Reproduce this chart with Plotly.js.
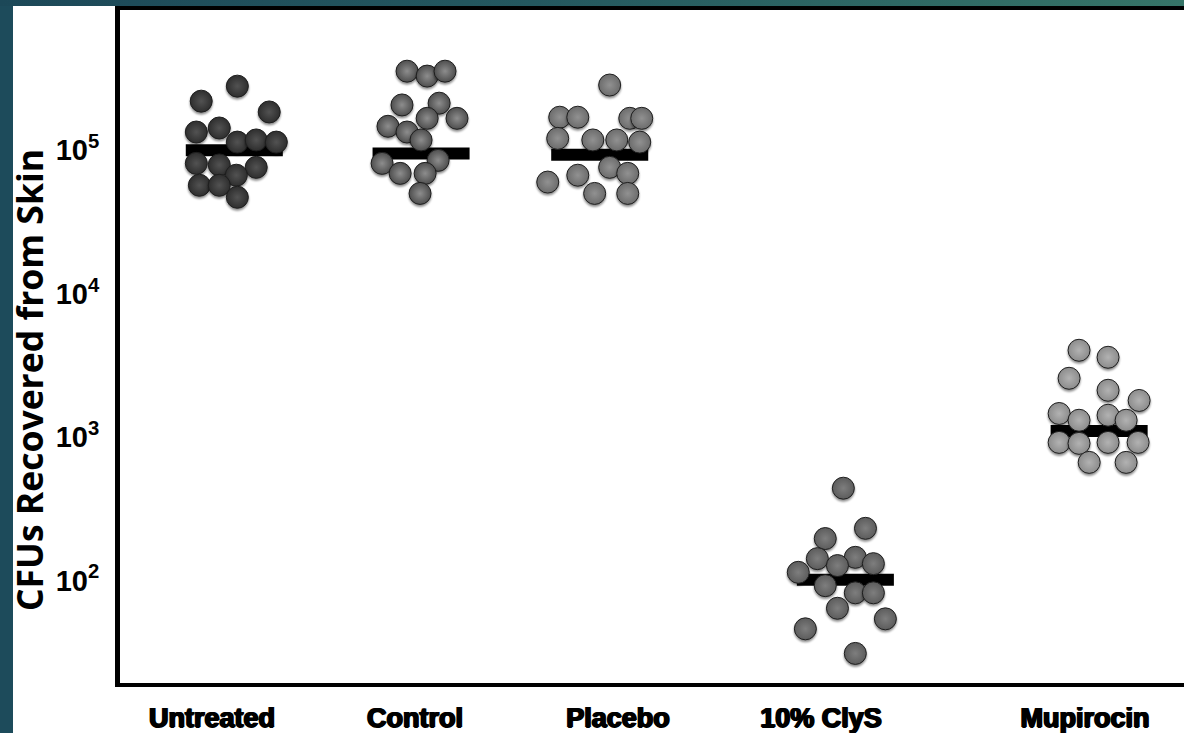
<!DOCTYPE html>
<html>
<head>
<meta charset="utf-8">
<script src="https://cdn.plot.ly/plotly-3.0.1.min.js"></script>
<style>
  html, body { margin: 0; padding: 0; }
  body { width: 1184px; height: 733px; overflow: hidden;
         background: linear-gradient(to right, #1c4858 0%, #24585f 45%, #367568 100%); }
  #chart { width: 1184px; height: 733px; }
  /* soft drop shadow under each dot */
  .scatterlayer .points path.point { filter: drop-shadow(0.5px 2px 1px rgba(0,0,0,0.45)); }
</style>
</head>
<body>
<div id="chart"></div>
<script>
// Treatment groups and where their labels sit on the x axis
const groups   = ['Untreated', 'Control', 'Placebo', '10% ClyS', 'Mupirocin'];
const labelPos = [1, 2, 3, 4, 5.3];
const groupPos = [1.11, 2.03, 2.91, 4.12, 5.37];

// Median CFU per group (horizontal bars)
const medians = [1.0e5, 9.5e4, 9.3e4, 101, 1100];

// Individual CFU counts recovered from skin, with the horizontal spread of each dot
const untreatedCFU    = [2.2e5, 2.8e5, 1.85e5, 1.34e5, 1.43e5, 1.14e5, 1.18e5, 1.14e5, 8.1e4, 7.9e4, 7.6e4, 6.7e4, 5.7e4, 5.7e4, 4.7e4];
const untreatedSpread = [-0.163, 0.015, 0.172, -0.187, -0.074, 0.015, 0.108, 0.207, -0.187, -0.074, 0.108, 0.010, -0.172, -0.074, 0.015];

const controlCFU    = [3.56e5, 3.29e5, 3.56e5, 2.07e5, 2.13e5, 1.67e5, 1.67e5, 1.47e5, 1.34e5, 1.18e5, 8.1e4, 8.5e4, 6.9e4, 6.9e4, 5.0e4];
const controlSpread = [-0.069, 0.030, 0.118, -0.094, 0.089, 0.030, 0.177, -0.163, -0.069, 0.000, -0.192, 0.084, -0.103, 0.020, -0.005];

const placeboCFU    = [2.85e5, 1.70e5, 1.70e5, 1.67e5, 1.67e5, 1.21e5, 1.18e5, 1.18e5, 1.14e5, 7.6e4, 6.7e4, 6.9e4, 6.0e4, 5.0e4, 5.0e4];
const placeboSpread = [0.049, -0.197, -0.108, 0.148, 0.207, -0.207, -0.034, 0.084, 0.197, 0.049, -0.108, 0.138, -0.256, -0.025, 0.138];

const clysCFU    = [440, 231, 196, 142, 145, 127, 131, 114, 92, 82, 82, 64, 54, 46, 31];
const clysSpread = [-0.010, 0.099, -0.099, -0.138, 0.049, -0.039, 0.138, -0.232, -0.099, 0.049, 0.138, -0.039, 0.197, -0.197, 0.049];

const mupirocinCFU    = [4030, 3600, 2570, 2120, 1800, 1460, 1420, 1310, 1310, 918, 904, 918, 918, 666, 666];
const mupirocinSpread = [-0.099, 0.044, -0.148, 0.044, 0.197, -0.197, 0.044, -0.099, 0.133, -0.197, -0.099, 0.044, 0.192, -0.049, 0.133];

// Y tick values and their labels
const yTickVals = [100, 1000, 10000, 100000];
const yTickText = ['10<sup>2</sup>', '10<sup>3</sup>', '10<sup>4</sup>', '10<sup>5</sup>'];

// Dot shading per group: rim colour and highlight colour
const rimColors    = ['#2e2e2e', '#4e4e4e', '#6c6c6c', '#5c5c5c', '#8c8c8c'];
const centerColors = ['#525252', '#8d8d8d', '#919191', '#7e7e7e', '#b2b2b2'];

const cfu    = [untreatedCFU, controlCFU, placeboCFU, clysCFU, mupirocinCFU];
const spread = [untreatedSpread, controlSpread, placeboSpread, clysSpread, mupirocinSpread];

const BAR_HALF = 0.239;
const traces = [];

// median bars first so the dots sit on top
groups.forEach((g, i) => {
  traces.push({
    type: 'scatter', mode: 'lines', hoverinfo: 'skip',
    x: [groupPos[i] - BAR_HALF, groupPos[i] + BAR_HALF],
    y: [medians[i], medians[i]],
    line: { color: '#000000', width: 12 }
  });
});

groups.forEach((g, i) => {
  traces.push({
    type: 'scatter', mode: 'markers', name: g,
    x: spread[i].map(d => groupPos[i] + d),
    y: cfu[i],
    marker: {
      symbol: 'circle', size: 22,
      color: rimColors[i],
      gradient: { type: 'radial', color: centerColors[i] },
      line: { color: '#1e1e1e', width: 1 }
    }
  });
});

const W = 1184, H = 733;
const M = { l: 120, r: 0, t: 10, b: 50 };
const plotW = W - M.l - M.r, plotH = H - M.t - M.b;
const px2x = p => (p - M.l) / plotW;
const px2y = p => (H - M.b - p) / plotH;

const layout = {
  width: W, height: H,
  margin: { l: M.l, r: M.r, t: M.t, b: M.b, pad: 0 },
  paper_bgcolor: 'rgba(0,0,0,0)',
  plot_bgcolor: '#ffffff',
  showlegend: false,
  xaxis: {
    range: [0.547, 5.788],
    tickvals: labelPos, ticktext: groups,
    showgrid: false, zeroline: false,
    showline: true, linecolor: '#000000', linewidth: 4, mirror: true,
    ticks: '', ticklabelstandoff: 8,
    tickfont: { family: 'Liberation Sans, Arial, sans-serif', size: 27, weight: 700, color: '#000000',
                shadow: '1px 0 0 #000, -1px 0 0 #000, 0 0.6px 0 #000' }
  },
  yaxis: {
    type: 'log',
    range: [1.285, 5.978],
    tickvals: yTickVals, ticktext: yTickText,
    showgrid: false, zeroline: false,
    showline: true, linecolor: '#000000', linewidth: 5,
    ticks: '', ticklabelstandoff: 10,
    tickfont: { family: 'Liberation Sans, Arial, sans-serif', size: 29, weight: 700, color: '#000000' }
  },
  shapes: [
    // white sheet behind the chart
    { type: 'rect', xref: 'paper', yref: 'paper', layer: 'below',
      x0: px2x(13), x1: px2x(W + 5), y0: px2y(H + 5), y1: px2y(6),
      fillcolor: '#ffffff', line: { width: 0 } },
    // darker teal side strip
    { type: 'rect', xref: 'paper', yref: 'paper', layer: 'below',
      x0: px2x(-5), x1: px2x(13), y0: px2y(H + 5), y1: px2y(6),
      fillcolor: '#1d4b5b', line: { width: 0 } }
  ],
  annotations: [
    { text: 'CFUs Recovered from Skin', xref: 'paper', yref: 'paper',
      x: px2x(29), y: px2y(380), xanchor: 'center', yanchor: 'middle',
      textangle: -90, showarrow: false,
      font: { family: 'Open Sans, sans-serif', size: 35.5, weight: 700, color: '#000000' } }
  ]
};

Plotly.newPlot('chart', traces, layout, { displayModeBar: false, staticPlot: true });
</script>
</body>
</html>
